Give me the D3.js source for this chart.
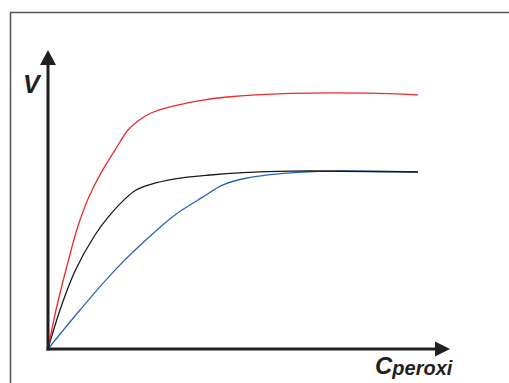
<!DOCTYPE html>
<html>
<head>
    <meta charset="utf-8" />
    <title>V vs Cperoxi</title>
    <style>
        html, body { margin: 0; padding: 0; background: #fff; }
        text { font-family: "Liberation Sans", Arial, sans-serif; font-weight: bold; font-style: italic; fill: #231f20; }
    </style>
</head>
<body>
    <svg width="509" height="383"></svg>
    <script src="https://d3js.org/d3.v7.min.js"></script>
    <script>
        // schematic curves, arbitrary units (x 0..10, y 0..10)
        var redX   = [0, 0.2, 0.5, 0.75, 1.0, 1.325, 1.675, 2.0, 2.25, 2.55, 3.05, 3.8, 4.475, 6.05, 7.975, 9.25];
        var redY   = [0, 1.3, 2.9, 4.1, 5.0, 5.87, 6.63, 7.3, 7.6, 7.85, 8.07, 8.28, 8.4, 8.52, 8.53, 8.47];
        var blackX = [0, 0.3, 0.675, 1.175, 1.55, 1.9, 2.2, 2.55, 3.175, 4.05, 4.875, 6.05, 9.25];
        var blackY = [0, 1.3, 2.6, 3.8, 4.47, 4.97, 5.3, 5.48, 5.67, 5.8, 5.88, 5.93, 5.9];
        var blueX  = [0, 0.8, 1.675, 2.5, 3.175, 3.875, 4.375, 4.975, 6.05, 7.05, 9.25];
        var blueY  = [0, 1.3, 2.63, 3.7, 4.47, 5.07, 5.47, 5.7, 5.87, 5.93, 5.9];

        var svg = d3.select("svg");

        var x = d3.scaleLinear().domain([0, 10]).range([48, 448]);
        var y = d3.scaleLinear().domain([0, 10]).range([349, 49]);

        // frame (runs off right and bottom edges)
        svg.append("path")
            .attr("d", "M10.5,383V12.5H509")
            .attr("fill", "none")
            .attr("stroke", "#555")
            .attr("stroke-width", 1.5);

        var line = d3.line()
            .x(function (d) { return x(d[0]); })
            .y(function (d) { return y(d[1]); })
            .curve(d3.curveCatmullRom.alpha(0.5));

        var series = [
            { xs: blueX, ys: blueY, color: "#2a64b8" },
            { xs: blackX, ys: blackY, color: "#1a1a1a" },
            { xs: redX, ys: redY, color: "#ee2b2b" }
        ];

        svg.append("g").selectAll("path")
            .data(series)
            .enter().append("path")
            .attr("fill", "none")
            .attr("stroke", function (d) { return d.color; })
            .attr("stroke-width", 1.3)
            .attr("d", function (d) {
                return line(d.xs.map(function (v, i) { return [v, d.ys[i]]; }));
            });

        // axes with arrow heads
        var x0 = x(0), y0 = y(0);
        var axis = svg.append("g").attr("fill", "#231f20").attr("stroke", "#231f20");
        axis.append("line")
            .attr("x1", x0).attr("y1", y0 + 1.5)
            .attr("x2", x0).attr("y2", y(9.5))
            .attr("stroke-width", 3);
        axis.append("line")
            .attr("x1", x0 - 1.5).attr("y1", y0)
            .attr("x2", x(9.7)).attr("y2", y0)
            .attr("stroke-width", 3);
        axis.append("path")
            .attr("stroke", "none")
            .attr("d", "M" + x0 + "," + (y(10) + 1) + "L" + (x0 + 8) + "," + (y(10) + 16) + "L" + (x0 - 8) + "," + (y(10) + 16) + "Z");
        axis.append("path")
            .attr("stroke", "none")
            .attr("d", "M" + (x(10) + 2) + "," + y0 + "L" + (x(10) - 13) + "," + (y0 - 7.5) + "L" + (x(10) - 13) + "," + (y0 + 7.5) + "Z");

        svg.append("text")
            .attr("x", 23).attr("y", 93)
            .attr("font-size", 25)
            .text("V");

        var xl = svg.append("text")
            .attr("x", 375).attr("y", 374);
        xl.append("tspan").attr("font-size", 24).text("C");
        xl.append("tspan").attr("font-size", 20).attr("dy", 1).text("peroxi");
    </script>
</body>
</html>
